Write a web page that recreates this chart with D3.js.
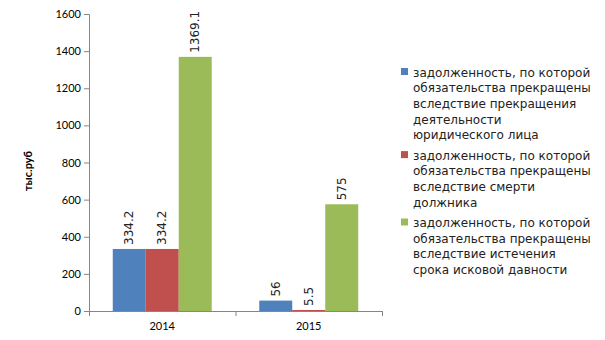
<!DOCTYPE html>
<html>
<head>
<meta charset="utf-8">
<script src="https://cdn.jsdelivr.net/npm/d3@7/dist/d3.min.js"></script>
<style>
  html, body { margin: 0; padding: 0; background: #fff; }
  svg { display: block; }
</style>
</head>
<body>
<svg id="chart" width="605" height="340"></svg>
<script>
// Years on the category axis
const years = ["2014", "2015"];

// Series values, тыс. руб
const seriesLegalEntity = [334.2, 56];
const seriesDebtorDeath = [334.2, 5.5];
const seriesLimitation = [1369.1, 575];

const seriesNames = [
  ["задолженность, по которой", "обязательства прекращены", "вследствие прекращения", "деятельности", "юридического лица"],
  ["задолженность, по которой", "обязательства прекращены", "вследствие смерти", "должника"],
  ["задолженность, по которой", "обязательства прекращены", "вследствие истечения", "срока исковой давности"]
];

const yTicks = [0, 200, 400, 600, 800, 1000, 1200, 1400, 1600];
const colors = ["#4F81BD", "#C0504D", "#9BBB59"];

const series = [seriesLegalEntity, seriesDebtorDeath, seriesLimitation];

const svg = d3.select("#chart");
const plotLeft = 89, plotRight = 382, plotTop = 14, plotBottom = 311;

const x = d3.scaleBand().domain(years).range([plotLeft, plotRight]).paddingInner(0).paddingOuter(0);
const inner = d3.scaleBand().domain(d3.range(series.length)).range([0, x.bandwidth()]).paddingOuter(0.72).paddingInner(0);
const y = d3.scaleLinear().domain([0, 1600]).range([plotBottom, plotTop]);

const axisColor = "#868686";

// Y axis
const yAxis = svg.append("g")
  .attr("transform", `translate(${plotLeft},0)`)
  .call(d3.axisLeft(y).tickValues(yTicks).tickSize(5).tickPadding(3).tickFormat(d3.format("d")));
yAxis.select(".domain").attr("stroke", axisColor);
yAxis.selectAll(".tick line").attr("stroke", axisColor);
yAxis.selectAll("text")
  .attr("font-family", "Lato")
  .attr("font-size", 11)
  .attr("fill", "#000");

// X axis with ticks at category boundaries
const xAxis = svg.append("g")
  .attr("transform", `translate(0,${plotBottom})`);
xAxis.append("line")
  .attr("x1", plotLeft).attr("x2", plotRight)
  .attr("y1", 0.5).attr("y2", 0.5)
  .attr("stroke", axisColor);
const bounds = years.map(d => x(d)).concat([x(years[years.length - 1]) + x.bandwidth()]);
xAxis.selectAll(".bt").data(bounds).enter().append("line")
  .attr("x1", d => d + 0.5).attr("x2", d => d + 0.5)
  .attr("y1", 0).attr("y2", 5)
  .attr("stroke", axisColor);
xAxis.selectAll(".yl").data(years).enter().append("text")
  .attr("x", d => x(d) + x.bandwidth() / 2)
  .attr("y", 19)
  .attr("text-anchor", "middle")
  .attr("font-family", "Lato")
  .attr("font-size", 11)
  .attr("fill", "#000")
  .text(d => d);

// Y axis title
svg.append("text")
  .attr("transform", `translate(32,171) rotate(-90)`)
  .attr("text-anchor", "middle")
  .attr("font-family", "Lato")
  .attr("font-weight", "bold")
  .attr("font-size", 11)
  .attr("fill", "#000")
  .text("тыс.руб");

// Bars and value labels
series.forEach((vals, si) => {
  const g = svg.append("g");
  g.selectAll("rect").data(vals).enter().append("rect")
    .attr("x", (d, i) => x(years[i]) + inner(si))
    .attr("width", inner.bandwidth())
    .attr("y", d => y(d))
    .attr("height", d => plotBottom - y(d))
    .attr("fill", colors[si]);
  g.selectAll("text").data(vals).enter().append("text")
    .attr("transform", (d, i) => {
      const cx = x(years[i]) + inner(si) + inner.bandwidth() / 2 + 4;
      return `translate(${cx},${y(d) - 4}) rotate(-90)`;
    })
    .attr("font-family", "DejaVu Sans")
    .attr("font-size", 12)
    .attr("fill", "#222")
    .text(d => String(d));
});

// Legend
const lineH = 15.7, itemGap = 20.3;
let cy = 72;
seriesNames.forEach((lines, si) => {
  const g = svg.append("g");
  g.append("rect")
    .attr("x", 401).attr("y", cy - 4)
    .attr("width", 7).attr("height", 7)
    .attr("fill", colors[si]);
  lines.forEach((t, li) => {
    g.append("text")
      .attr("x", 413)
      .attr("y", cy + li * lineH + 4.5)
      .attr("font-family", "DejaVu Sans")
      .attr("font-size", 12)
      .attr("fill", "#222")
      .text(t);
  });
  cy += (lines.length - 1) * lineH + itemGap;
});
</script>
</body>
</html>
